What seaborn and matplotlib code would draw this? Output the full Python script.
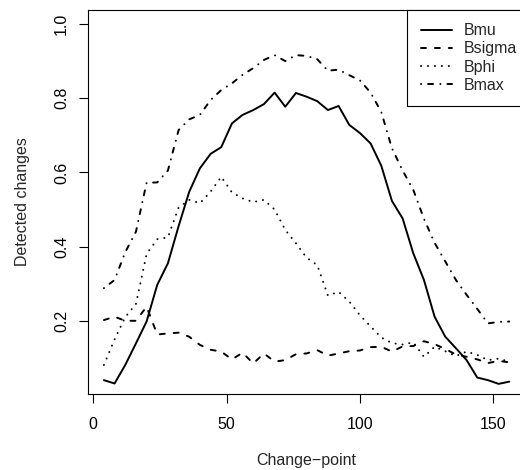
import matplotlib
matplotlib.use("Agg")
import matplotlib.pyplot as plt
import seaborn as sns
import numpy as np

# ---------------- data ----------------
change_point = [4, 8, 12, 16, 20, 24, 28, 32, 36, 40, 44, 48, 52, 56, 60, 64, 68, 72, 76, 80,
                84, 88, 92, 96, 100, 104, 108, 112, 116, 120, 124, 128, 132, 136, 140, 144,
                148, 152, 156]

Bmu = [0.040, 0.031, 0.081, 0.139, 0.198, 0.297, 0.355, 0.455, 0.548, 0.611,
       0.650, 0.668, 0.732, 0.755, 0.768, 0.784, 0.815, 0.777, 0.814, 0.804,
       0.792, 0.768, 0.779, 0.728, 0.706, 0.678, 0.618, 0.523, 0.476, 0.382,
       0.310, 0.211, 0.157, 0.126, 0.094, 0.047, 0.040, 0.030, 0.036]

Bsigma = [0.202, 0.211, 0.200, 0.200, 0.238, 0.163, 0.166, 0.168, 0.157, 0.135,
          0.122, 0.117, 0.096, 0.114, 0.085, 0.112, 0.090, 0.094, 0.110, 0.112,
          0.121, 0.106, 0.112, 0.118, 0.120, 0.129, 0.130, 0.117, 0.131, 0.132,
          0.145, 0.137, 0.124, 0.109, 0.103, 0.096, 0.086, 0.092, 0.088]

Bphi = [0.081, 0.150, 0.210, 0.245, 0.380, 0.420, 0.425, 0.505, 0.526, 0.517,
        0.548, 0.588, 0.546, 0.530, 0.520, 0.526, 0.500, 0.445, 0.409, 0.370,
        0.350, 0.268, 0.278, 0.252, 0.215, 0.185, 0.155, 0.140, 0.136, 0.142,
        0.103, 0.130, 0.118, 0.105, 0.117, 0.108, 0.094, 0.098, 0.090]

Bmax = [0.288, 0.310, 0.385, 0.440, 0.572, 0.573, 0.605, 0.714, 0.743, 0.755,
        0.795, 0.822, 0.840, 0.863, 0.881, 0.903, 0.916, 0.900, 0.916, 0.914,
        0.905, 0.874, 0.877, 0.862, 0.848, 0.815, 0.763, 0.665, 0.605, 0.553,
        0.475, 0.410, 0.360, 0.310, 0.270, 0.232, 0.193, 0.197, 0.198]

series_names = ["Bmu", "Bsigma", "Bphi", "Bmax"]
series_values = [Bmu, Bsigma, Bphi, Bmax]

x_ticks = [0, 50, 100, 150]
y_ticks = [0.2, 0.4, 0.6, 0.8, 1.0]

# ---------------- style ----------------
sns.set_style("white")
plt.rcParams["font.family"] = ["Liberation Sans", "DejaVu Sans"]
plt.rcParams["lines.scale_dashes"] = False

linestyles = {
    "Bmu": "-",
    "Bsigma": (0, (3.6, 6.4)),
    "Bphi": (0, (0.1, 4.9)),
    "Bmax": (0, (0.1, 5.0, 3.6, 5.2)),
}

FS = 11.5

fig = plt.figure(figsize=(5.2, 4.7), dpi=100)
ax = fig.add_axes([0.16865, 0.16234, 0.84192, 0.81702])

for name, vals in zip(series_names, series_values):
    sns.lineplot(x=change_point, y=vals, ax=ax, color="black", linewidth=1.4,
                 linestyle=linestyles[name], label=name,
                 dash_capstyle="round", solid_capstyle="round",
                 solid_joinstyle="round", dash_joinstyle="round",
                 estimator=None, sort=False)

ax.set_xlim(-2.08, 162.08)
ax.set_ylim(0.0035, 1.0385)
ax.set_xticks(x_ticks)
ax.set_xticklabels([str(t) for t in x_ticks])
ax.set_yticks(y_ticks)
ax.set_yticklabels([f"{t:.1f}" for t in y_ticks], rotation=90, va="center")

ax.tick_params(axis="both", which="major", bottom=True, left=True,
               top=False, right=False, direction="out", length=6.5, width=0.8,
               color="black", labelsize=FS, labelcolor="black")
ax.tick_params(axis="x", pad=10.5)
ax.tick_params(axis="y", pad=7)

for sp in ax.spines.values():
    sp.set_visible(True)
    sp.set_color("black")
    sp.set_linewidth(0.8)

ax.set_xlabel("Change\u2212point", fontsize=FS, va="top")
ax.xaxis.set_label_coords(0.5, -0.154)
ax.set_ylabel("Detected changes", fontsize=FS)
ax.yaxis.set_label_coords(-0.131, 0.5)

leg = ax.legend(loc="upper right", bbox_to_anchor=(1.0114, 1), borderaxespad=0,
                frameon=True, fancybox=False, edgecolor="black", framealpha=1,
                handlelength=1.95, handletextpad=0.75, borderpad=0.85,
                labelspacing=0.2, fontsize=FS)
leg.get_frame().set_linewidth(0.8)

fig.savefig("out.png", dpi=100)
